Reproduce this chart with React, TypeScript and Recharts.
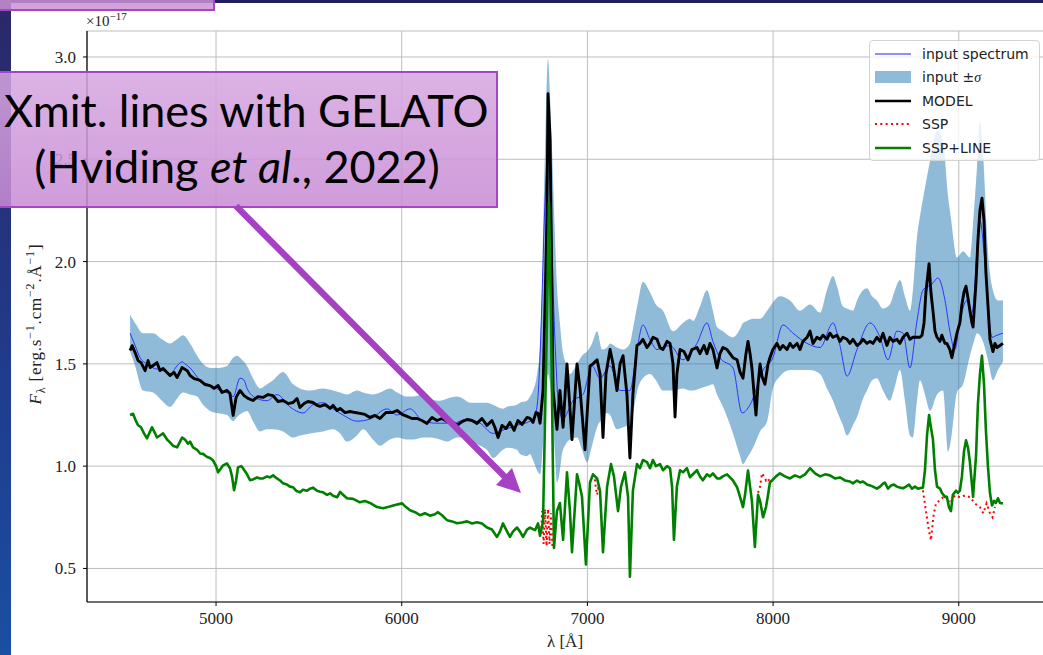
import React from "react";
import { ComposedChart, Line, Area, XAxis, YAxis, CartesianGrid } from "recharts";

// ---------- axis ticks ----------
const xTicks = [5000, 6000, 7000, 8000, 9000];
const yTicks = [0.5, 1.0, 1.5, 2.0, 2.5, 3.0];
const xDomain = [4305, 9486];
const yDomain = [0.336, 3.127];

// ---------- input ±σ band ----------
const lamBand = [4537,4564,4607,4661,4709,4752,4790,4822,4860,4898,4930,4968,5005,5059,5092,5113,5140,5167,5199,5237,5275,5307,5361,5415,5452,5506,5576,5630,5668,5705,5759,5792,5845,5883,5937,5975,6029,6061,6115,6152,6206,6244,6298,6330,6368,6422,6459,6492,6545,6567,6621,6637,6675,6691,6707,6729,6745,6756,6772,6788,6799,6809,6826,6836,6852,6863,6885,6906,6944,6971,6998,7025,7052,7079,7106,7122,7159,7192,7229,7245,7272,7299,7337,7369,7407,7461,7515,7552,7569,7606,7644,7676,7698,7730,7784,7822,7838,7860,7892,7930,7968,7999,8037,8091,8145,8199,8253,8290,8323,8344,8376,8398,8430,8452,8484,8506,8533,8559,8592,8629,8656,8683,8710,8737,8753,8775,8791,8818,8845,8883,8915,8942,8958,8990,9023,9060,9082,9098,9114,9130,9157,9184,9211,9238];
const bandHigh = [1.74,1.70,1.65,1.65,1.62,1.60,1.62,1.64,1.60,1.54,1.50,1.48,1.48,1.49,1.53,1.54,1.52,1.49,1.43,1.38,1.40,1.42,1.46,1.40,1.38,1.37,1.38,1.37,1.36,1.35,1.37,1.36,1.35,1.36,1.38,1.36,1.34,1.34,1.35,1.33,1.32,1.33,1.34,1.33,1.31,1.31,1.31,1.30,1.28,1.29,1.30,1.31,1.32,1.34,1.37,1.45,1.60,1.88,2.56,2.99,2.80,2.56,2.10,1.88,1.70,1.59,1.50,1.45,1.50,1.54,1.56,1.60,1.66,1.57,1.58,1.60,1.58,1.57,1.60,1.67,1.80,1.90,1.85,1.79,1.76,1.66,1.70,1.72,1.71,1.78,1.86,1.76,1.68,1.66,1.63,1.67,1.70,1.71,1.72,1.72,1.76,1.80,1.83,1.81,1.76,1.79,1.75,1.86,1.93,1.88,1.78,1.77,1.76,1.81,1.86,1.87,1.83,1.81,1.77,1.79,1.86,1.91,1.83,1.76,1.86,2.12,2.22,2.36,2.49,2.64,2.59,2.32,2.21,2.02,2.05,2.02,2.25,2.46,2.69,2.54,2.05,1.86,1.81,1.81];
const bandLow = [1.56,1.49,1.37,1.36,1.32,1.29,1.33,1.36,1.35,1.34,1.30,1.27,1.26,1.25,1.22,1.24,1.26,1.27,1.22,1.17,1.18,1.18,1.17,1.14,1.15,1.16,1.17,1.18,1.16,1.12,1.15,1.18,1.13,1.10,1.13,1.14,1.13,1.13,1.14,1.14,1.13,1.12,1.14,1.14,1.12,1.10,1.08,1.04,1.08,1.09,1.08,1.06,1.05,1.06,1.03,0.98,0.96,1.05,1.30,1.45,1.40,1.30,1.05,0.92,0.98,1.06,1.11,1.13,1.14,1.08,1.02,1.10,1.19,1.23,1.26,1.25,1.18,1.19,1.21,1.26,1.38,1.43,1.45,1.42,1.37,1.37,1.38,1.37,1.37,1.38,1.39,1.40,1.35,1.29,1.16,1.05,1.01,1.04,1.09,1.17,1.22,1.38,1.44,1.47,1.47,1.47,1.45,1.38,1.32,1.27,1.20,1.15,1.20,1.24,1.33,1.37,1.42,1.43,1.37,1.32,1.39,1.47,1.32,1.15,1.14,1.32,1.42,1.35,1.27,1.35,1.37,1.07,1.13,1.36,1.40,1.54,1.61,1.65,1.64,1.61,1.52,1.42,1.47,1.51];

// ---------- input spectrum ----------
const lamInput = [4537,4564,4591,4628,4661,4709,4752,4790,4817,4833,4860,4914,4984,5022,5059,5092,5129,5151,5167,5221,5275,5328,5398,5468,5522,5576,5630,5684,5759,5829,5921,5975,6045,6115,6190,6276,6352,6422,6492,6556,6621,6691,6718,6734,6745,6772,6788,6804,6815,6831,6842,6869,6896,6922,6976,7025,7068,7122,7176,7229,7267,7299,7337,7375,7445,7515,7552,7590,7644,7676,7714,7784,7833,7876,7946,7999,8053,8107,8183,8253,8323,8360,8398,8452,8522,8576,8619,8667,8700,8737,8775,8807,8856,8888,8926,8952,8979,9006,9044,9071,9114,9141,9179,9206,9238];
const fluxInput = [1.65,1.59,1.53,1.50,1.48,1.47,1.45,1.49,1.51,1.50,1.48,1.42,1.39,1.37,1.36,1.34,1.43,1.42,1.38,1.33,1.32,1.35,1.29,1.26,1.30,1.31,1.28,1.25,1.22,1.23,1.28,1.25,1.28,1.22,1.21,1.21,1.23,1.21,1.16,1.18,1.20,1.22,1.25,1.34,1.54,2.30,2.55,2.30,1.88,1.50,1.32,1.23,1.27,1.32,1.35,1.49,1.43,1.49,1.37,1.37,1.57,1.69,1.62,1.57,1.59,1.52,1.55,1.60,1.70,1.61,1.53,1.48,1.26,1.30,1.47,1.53,1.69,1.65,1.60,1.58,1.70,1.59,1.44,1.57,1.70,1.63,1.52,1.66,1.65,1.48,1.71,1.86,1.89,1.92,1.81,1.66,1.57,1.71,1.81,1.75,2.20,2.00,1.63,1.64,1.65];

// ---------- MODEL ----------
const lamModel = [4537,4548,4564,4580,4596,4618,4634,4645,4661,4682,4698,4715,4736,4752,4774,4790,4817,4844,4860,4882,4914,4941,4968,4989,5011,5032,5059,5075,5092,5108,5129,5151,5172,5199,5226,5253,5280,5307,5334,5361,5388,5415,5436,5452,5474,5495,5522,5544,5560,5587,5614,5630,5652,5668,5695,5722,5749,5775,5802,5829,5856,5883,5915,5948,5975,6002,6029,6055,6082,6109,6136,6163,6190,6217,6244,6271,6298,6325,6352,6379,6405,6432,6459,6486,6502,6519,6540,6562,6583,6605,6626,6648,6675,6691,6707,6723,6734,6745,6761,6772,6782,6788,6799,6804,6815,6836,6852,6869,6890,6917,6944,6960,6987,7014,7030,7052,7068,7084,7100,7122,7138,7159,7176,7192,7213,7229,7245,7267,7283,7299,7321,7337,7353,7375,7391,7407,7429,7445,7461,7472,7482,7499,7520,7542,7563,7590,7606,7628,7644,7660,7676,7698,7714,7730,7752,7768,7784,7806,7822,7838,7854,7865,7876,7886,7897,7908,7919,7930,7940,7956,7973,7983,7999,8021,8037,8053,8075,8091,8107,8129,8145,8161,8183,8199,8215,8236,8253,8269,8290,8306,8323,8344,8360,8376,8398,8414,8430,8452,8468,8484,8506,8522,8538,8559,8576,8592,8613,8629,8646,8667,8683,8700,8721,8737,8753,8775,8791,8802,8813,8823,8840,8850,8861,8872,8883,8899,8909,8926,8936,8952,8963,8974,8990,9006,9017,9028,9039,9050,9060,9071,9077,9093,9103,9114,9125,9136,9146,9157,9168,9184,9195,9206,9222,9238];
const fluxModel = [1.565,1.589,1.555,1.516,1.506,1.467,1.516,1.482,1.492,1.506,1.467,1.477,1.458,1.443,1.458,1.433,1.482,1.467,1.443,1.428,1.419,1.399,1.394,1.380,1.394,1.360,1.370,1.355,1.248,1.336,1.370,1.345,1.331,1.321,1.340,1.336,1.350,1.345,1.316,1.321,1.306,1.311,1.331,1.287,1.306,1.316,1.311,1.297,1.292,1.301,1.282,1.297,1.272,1.282,1.262,1.267,1.262,1.258,1.253,1.238,1.248,1.233,1.262,1.262,1.272,1.253,1.243,1.233,1.233,1.223,1.209,1.238,1.223,1.233,1.218,1.218,1.199,1.218,1.228,1.223,1.209,1.233,1.199,1.223,1.189,1.140,1.199,1.184,1.214,1.175,1.223,1.204,1.238,1.233,1.214,1.262,1.258,1.21,1.37,1.80,2.22,2.82,2.60,2.22,1.37,1.18,1.37,1.19,1.50,1.13,1.50,1.38,1.08,1.49,1.50,1.52,1.45,1.14,1.45,1.57,1.50,1.37,1.50,1.54,1.35,1.04,1.35,1.59,1.60,1.62,1.58,1.60,1.63,1.62,1.58,1.57,1.61,1.60,1.50,1.24,1.45,1.57,1.56,1.52,1.57,1.58,1.55,1.59,1.55,1.60,1.57,1.48,1.55,1.58,1.57,1.55,1.53,1.52,1.46,1.43,1.55,1.61,1.55,1.48,1.36,1.25,1.40,1.50,1.44,1.40,1.50,1.53,1.57,1.60,1.57,1.59,1.57,1.60,1.58,1.60,1.57,1.61,1.63,1.66,1.60,1.63,1.62,1.64,1.62,1.65,1.63,1.64,1.61,1.63,1.62,1.60,1.62,1.59,1.60,1.62,1.60,1.61,1.60,1.63,1.61,1.65,1.59,1.63,1.61,1.62,1.60,1.63,1.65,1.62,1.63,1.63,1.63,1.64,1.70,1.85,1.99,1.85,1.76,1.66,1.63,1.61,1.64,1.60,1.60,1.57,1.53,1.58,1.65,1.70,1.79,1.85,1.88,1.82,1.76,1.70,1.68,1.90,2.10,2.25,2.31,2.20,1.95,1.79,1.62,1.56,1.60,1.58,1.59,1.60];

// ---------- SSP+LINE ----------
const lamSspLine = [4537,4553,4569,4580,4596,4612,4628,4645,4655,4672,4682,4698,4715,4736,4752,4768,4790,4806,4817,4833,4849,4860,4876,4898,4914,4930,4952,4968,4984,5000,5011,5027,5038,5059,5075,5086,5097,5108,5118,5135,5145,5167,5183,5199,5221,5237,5253,5275,5291,5307,5328,5345,5361,5382,5398,5415,5431,5452,5468,5490,5506,5522,5544,5560,5576,5598,5614,5630,5652,5668,5684,5705,5738,5775,5802,5829,5867,5899,5926,5964,6002,6023,6045,6072,6099,6125,6152,6179,6195,6217,6244,6271,6298,6325,6352,6379,6405,6432,6459,6486,6513,6529,6545,6562,6583,6599,6621,6637,6653,6675,6691,6718,6734,6745,6761,6782,6793,6804,6820,6836,6852,6869,6890,6906,6917,6944,6955,6971,6992,7014,7030,7052,7068,7084,7106,7127,7143,7165,7181,7202,7219,7229,7245,7267,7283,7299,7321,7337,7353,7369,7391,7407,7429,7445,7456,7466,7482,7499,7515,7536,7552,7579,7590,7606,7622,7644,7660,7676,7698,7714,7730,7752,7768,7784,7806,7822,7838,7849,7865,7876,7886,7902,7919,7930,7946,7962,7973,7983,7994,8016,8037,8064,8091,8118,8145,8172,8199,8226,8253,8280,8306,8333,8360,8387,8414,8430,8452,8468,8484,8506,8522,8538,8559,8576,8592,8602,8619,8635,8651,8667,8683,8700,8716,8732,8748,8764,8780,8791,8807,8818,8829,8840,8850,8861,8872,8883,8899,8909,8926,8936,8947,8958,8968,8985,8995,9006,9017,9028,9039,9050,9060,9077,9093,9103,9114,9125,9136,9146,9157,9168,9179,9190,9200,9211,9222,9238];
const fluxSspLine = [1.25,1.256,1.22,1.20,1.19,1.16,1.136,1.17,1.19,1.16,1.14,1.15,1.16,1.13,1.116,1.10,1.092,1.12,1.14,1.13,1.11,1.12,1.092,1.08,1.062,1.06,1.045,1.04,1.028,1.00,0.97,0.99,1.004,1.013,0.99,0.95,0.882,0.93,0.994,1.00,0.99,0.96,0.931,0.935,0.945,0.94,0.94,0.95,0.945,0.955,0.94,0.93,0.916,0.91,0.90,0.897,0.88,0.872,0.885,0.88,0.89,0.895,0.88,0.875,0.872,0.86,0.867,0.855,0.848,0.874,0.86,0.843,0.84,0.823,0.83,0.82,0.80,0.794,0.80,0.81,0.818,0.80,0.784,0.775,0.76,0.77,0.758,0.765,0.775,0.76,0.736,0.73,0.721,0.725,0.73,0.72,0.726,0.72,0.70,0.69,0.654,0.68,0.72,0.69,0.654,0.68,0.70,0.68,0.654,0.69,0.70,0.687,0.72,0.66,0.73,1.71,2.29,1.71,0.60,0.78,0.82,0.64,0.97,0.78,0.58,0.96,0.92,0.85,0.52,0.92,0.96,0.94,0.88,0.58,0.90,1.01,0.95,0.78,0.90,0.97,0.85,0.46,0.88,1.01,0.99,1.03,1.02,0.99,1.03,1.00,1.01,0.98,1.00,0.99,0.90,0.64,0.90,0.98,0.97,0.99,0.946,0.97,0.98,0.95,0.931,0.96,0.95,0.965,0.94,0.94,0.95,0.96,0.945,0.93,0.897,0.85,0.80,0.86,0.979,0.90,0.83,0.605,0.86,0.83,0.75,0.80,0.86,0.92,0.93,0.95,0.965,0.95,0.94,0.955,0.945,0.96,0.99,0.965,0.95,0.96,0.955,0.94,0.945,0.93,0.925,0.916,0.93,0.92,0.925,0.91,0.906,0.90,0.89,0.90,0.915,0.92,0.89,0.905,0.91,0.90,0.895,0.892,0.90,0.91,0.89,0.90,0.89,0.892,0.895,0.98,1.15,1.25,1.19,1.13,0.98,0.90,0.89,0.87,0.85,0.85,0.80,0.78,0.86,0.88,0.87,0.88,0.95,1.07,1.126,1.09,1.02,0.85,1.05,1.30,1.45,1.54,1.40,1.18,1.00,0.87,0.808,0.83,0.82,0.843,0.82,0.818];

// ---------- SSP (visible where it departs from SSP+LINE) ----------
const lamSspA = [6734,6745,6750,6756,6764,6772,6780,6788,6796,6804,6812,6820];
const fluxSspA = [0.72,0.66,0.66,0.78,0.62,0.79,0.61,0.79,0.62,0.77,0.60,0.60];
const lamSspB = [7030,7041,7046,7052,7058,7068];
const fluxSspB = [0.96,0.93,0.89,0.86,0.89,0.88];
const lamSspC = [7919,7930,7940,7951,7962,7973,7983,7994];
const fluxSspC = [0.87,0.90,0.965,0.95,0.93,0.94,0.92,0.93];
const lamSspD = [8807,8825,8839,8850,8863,8877,8899,8926,8952,8979,9006,9033,9060,9087,9114,9132,9150,9168,9182,9195];
const fluxSspD = [0.882,0.77,0.686,0.638,0.752,0.818,0.833,0.857,0.818,0.857,0.848,0.857,0.848,0.818,0.799,0.77,0.818,0.77,0.75,0.80];

// ---------- build the table Recharts needs ----------
const rowMap = new Map<number, any>();
function put(lams: number[], vals: any[], key: string) {
  const n = Math.min(lams.length, vals.length);
  for (let i = 0; i < n; i++) {
    const l = lams[i];
    let r = rowMap.get(l);
    if (!r) { r = { lam: l }; rowMap.set(l, r); }
    r[key] = vals[i];
  }
}
put(lamBand, lamBand.map((_, i) => [bandLow[i], bandHigh[i]]), "band");
put(lamInput, fluxInput, "input");
put(lamModel, fluxModel, "model");
put(lamSspA, fluxSspA, "sspA");
put(lamSspB, fluxSspB, "sspB");
put(lamSspC, fluxSspC, "sspC");
put(lamSspD, fluxSspD, "sspD");
put(lamSspLine, fluxSspLine, "sspline");
const chartData = Array.from(rowMap.values()).sort((a, b) => a.lam - b.lam);

const serif = '"Liberation Serif", "DejaVu Serif", serif';
const tickStyle = { fill: "#222", fontSize: 17, fontFamily: serif };

const sspStyle = { stroke: "#ff0000", strokeWidth: 2, strokeDasharray: "2 3.3" };

export default function App() {
  return (
    <div style={{ position: "fixed", left: 0, top: 0, width: 1043, height: 655, overflow: "hidden", background: "#ffffff" }}>
      {/* slide decorations */}
      <div style={{ position: "absolute", left: 0, top: 0, width: 1043, height: 3, background: "#1f1f5c" }} />
      <div style={{ position: "absolute", left: 0, top: 0, width: 11, height: 655, background: "linear-gradient(#2a2868, #1f3d8e 60%, #1a4fa2)" }} />

      <div style={{ position: "absolute", left: 0, top: 0 }}>
        <ComposedChart width={1060} height={655} data={chartData} margin={{ top: 31, right: 11, bottom: 23, left: 27 }}>
          <CartesianGrid stroke="#bdbdbd" strokeWidth={1} />
          <XAxis dataKey="lam" type="number" domain={xDomain} allowDataOverflow ticks={xTicks} interval={0}
            height={30} tickSize={4} tickMargin={6} stroke="#000" axisLine={{ stroke: "#000", strokeWidth: 1.2 }}
            tick={tickStyle} tickFormatter={(v: number) => String(v)} />
          <XAxis xAxisId="top" orientation="top" dataKey="lam" type="number" domain={xDomain} allowDataOverflow
            tick={false} tickLine={false} height={0} axisLine={{ stroke: "#000", strokeWidth: 1.2 }} />
          <YAxis type="number" domain={yDomain} allowDataOverflow ticks={yTicks} interval={0} width={60}
            tickSize={4} tickMargin={7} stroke="#000" axisLine={{ stroke: "#000", strokeWidth: 1.2 }}
            tick={tickStyle} tickFormatter={(v: number) => v.toFixed(1)} />
          <Area dataKey="band" type="monotone" stroke="none" fill="#1f77b4" fillOpacity={0.5}
            connectNulls isAnimationActive={false} dot={false} activeDot={false} />
          <Line dataKey="input" type="monotone" stroke="#2424ff" strokeWidth={0.9} dot={false} activeDot={false}
            connectNulls isAnimationActive={false} />
          <Line dataKey="model" type="linear" stroke="#000000" strokeWidth={2.9} dot={false} activeDot={false}
            connectNulls isAnimationActive={false} strokeLinejoin="round" />
          <Line dataKey="sspA" type="linear" {...sspStyle} dot={false} activeDot={false} connectNulls isAnimationActive={false} />
          <Line dataKey="sspB" type="linear" {...sspStyle} dot={false} activeDot={false} connectNulls isAnimationActive={false} />
          <Line dataKey="sspC" type="linear" {...sspStyle} dot={false} activeDot={false} connectNulls isAnimationActive={false} />
          <Line dataKey="sspD" type="linear" {...sspStyle} dot={false} activeDot={false} connectNulls isAnimationActive={false} />
          <Line dataKey="sspline" type="linear" stroke="#008000" strokeWidth={2.6} dot={false} activeDot={false}
            connectNulls isAnimationActive={false} strokeLinejoin="round" />
        </ComposedChart>
      </div>

      {/* offset text */}
      <div style={{ position: "absolute", left: 86, top: 10, fontFamily: serif, fontSize: 15, color: "#222" }}>
        ×10<sup style={{ fontSize: 11 }}>−17</sup>
      </div>

      {/* x label */}
      <div style={{ position: "absolute", left: 465, width: 200, top: 632, textAlign: "center", fontFamily: serif, fontSize: 17, color: "#222" }}>
        λ [Å]
      </div>

      {/* y label */}
      <div style={{ position: "absolute", left: 36, top: 324, width: 0, height: 0 }}>
        <div style={{ position: "absolute", left: 0, top: 0, transform: "translate(-50%, -50%) rotate(-90deg)", whiteSpace: "nowrap", fontFamily: serif, fontSize: 17, color: "#222", letterSpacing: 0.8 }}>
          <i>F</i><sub style={{ fontSize: 12 }}>λ</sub> [erg.s<sup style={{ fontSize: 12 }}>−1</sup>.cm<sup style={{ fontSize: 12 }}>−2</sup>.Å<sup style={{ fontSize: 12 }}>−1</sup>]
        </div>
      </div>

      {/* legend */}
      <div style={{ position: "absolute", left: 869, top: 40, width: 171, height: 121, border: "1px solid #d3d3d3", borderRadius: 4, background: "rgba(255,255,255,0.8)", boxSizing: "border-box" }}>
        {[
          { label: <span>input spectrum</span>, kind: "blue" },
          { label: <span>input ±<i style={{ fontFamily: serif }}>σ</i></span>, kind: "patch" },
          { label: <span>MODEL</span>, kind: "black" },
          { label: <span>SSP</span>, kind: "red" },
          { label: <span>SSP+LINE</span>, kind: "green" },
        ].map((e, i) => (
          <div key={i} style={{ position: "absolute", left: 0, top: 4 + i * 23.4, height: 18, width: 168 }}>
            <svg width={40} height={18} style={{ position: "absolute", left: 4, top: 0 }}>
              {e.kind === "blue" && <line x1={1} y1={9} x2={37} y2={9} stroke="#6a6aff" strokeWidth={1.4} />}
              {e.kind === "patch" && <rect x={1} y={3} width={36} height={12} fill="#8fbbd9" />}
              {e.kind === "black" && <line x1={1} y1={9} x2={37} y2={9} stroke="#000" strokeWidth={2.4} />}
              {e.kind === "red" && <line x1={1} y1={9} x2={37} y2={9} stroke="#ff0000" strokeWidth={2} strokeDasharray="2 3.3" />}
              {e.kind === "green" && <line x1={1} y1={9} x2={37} y2={9} stroke="#008000" strokeWidth={2.4} />}
            </svg>
            <div style={{ position: "absolute", left: 52, top: 0, lineHeight: "18px", fontFamily: '"DejaVu Sans", sans-serif', fontSize: 14, color: "#222", whiteSpace: "nowrap" }}>
              {e.label}
            </div>
          </div>
        ))}
      </div>

      {/* top-left partial slide box */}
      <div style={{ position: "absolute", left: -4, top: -4, width: 219, height: 15, background: "rgba(203,146,214,0.85)", border: "2px solid #a547c5", boxSizing: "border-box" }} />

      {/* annotation box */}
      <div style={{ position: "absolute", left: -20, top: 71, width: 518, height: 137, background: "linear-gradient(rgba(214,166,224,0.86), rgba(200,140,212,0.86))", border: "2px solid #a547c5", boxSizing: "border-box" }} />
      <div style={{ position: "absolute", left: 4, top: 88, whiteSpace: "nowrap", fontFamily: "Lato, 'Open Sans', sans-serif", fontSize: 45, lineHeight: "44px", color: "#000" }}>
        Xmit. lines with GELATO
      </div>
      <div style={{ position: "absolute", left: -13, width: 500, top: 144, textAlign: "center", whiteSpace: "nowrap", fontFamily: "Lato, 'Open Sans', sans-serif", fontSize: 45, lineHeight: "44px", color: "#000" }}>
        (Hviding <i>et al</i>., 2022)
      </div>

      {/* arrow */}
      <svg width={1043} height={655} style={{ position: "absolute", left: 0, top: 0, pointerEvents: "none" }}>
        <line x1={236} y1={206} x2={506} y2={478} stroke="#a641c4" strokeWidth={6.5} />
        <polygon points="521,493 496,485 512,468" fill="#a641c4" />
      </svg>
    </div>
  );
}
